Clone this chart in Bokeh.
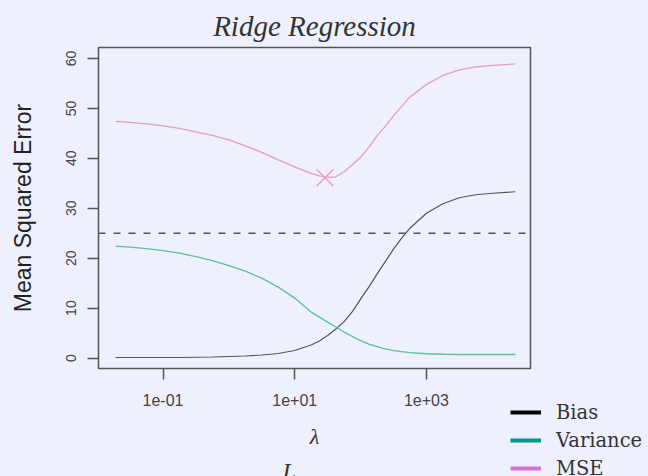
import math
from bokeh.plotting import figure
from bokeh.models import FixedTicker, Span, Legend, LegendItem, Title, Range1d
from bokeh.embed import file_html
from bokeh.resources import INLINE

# ---- data ----
lam = [0.01905, 0.03162, 0.05623, 0.1, 0.1778, 0.3162, 0.5623, 1.0, 1.778, 3.162,
       5.623, 10.0, 17.78, 23.71, 31.62, 42.17, 56.23, 74.99, 100.0, 133.4,
       177.8, 237.1, 316.2, 421.7, 562.3, 1000.0, 1778.0, 3162.0, 5623.0, 10000.0,
       22390.0]
bias = [0.1, 0.1, 0.1, 0.1, 0.1, 0.15, 0.2, 0.3, 0.4, 0.6,
        0.9, 1.5, 2.6, 3.4, 4.5, 5.8, 7.3, 9.3, 11.8, 14.2,
        16.8, 19.3, 21.8, 24.0, 26.0, 29.0, 30.9, 32.1, 32.7, 33.0,
        33.3]
variance = [22.4, 22.2, 21.9, 21.5, 21.0, 20.3, 19.5, 18.5, 17.4, 16.0,
            14.2, 12.0, 9.2, 8.2, 7.2, 6.2, 5.2, 4.3, 3.5, 2.8,
            2.3, 1.85, 1.5, 1.3, 1.1, 0.85, 0.75, 0.7, 0.7, 0.7,
            0.7]
mse = [47.4, 47.2, 46.9, 46.5, 46.0, 45.3, 44.6, 43.7, 42.5, 41.2,
       39.7, 38.3, 37.0, 36.5, 36.2, 36.3, 37.3, 38.7, 40.2, 42.2,
       44.5, 46.4, 48.5, 50.4, 52.3, 54.8, 56.6, 57.7, 58.3, 58.6,
       58.9]
irreducible = 25.0
best_lam = [28.8]
best_mse = [36.1]

xtick_values = [0.1, 10, 1000]
xtick_labels = ["1e-01", "1e+01", "1e+03"]
ytick_values = [0, 10, 20, 30, 40, 50, 60]
series_names = ["Bias", "Variance", "MSE"]
legend_colors = ["#000000", "#00968f", "#d872d8"]
line_colors = ["#555555", "#5cbf98", "#e29dbf"]

BG = "#eef1fd"

p = figure(frame_width=432, frame_height=321,
           x_axis_type="log",
           x_range=Range1d(10 ** -1.98, 10 ** 4.581),
           y_range=Range1d(-2.1, 62.2),
           min_border_left=98, min_border_right=118,
           min_border_top=47, min_border_bottom=108,
           output_backend="svg", toolbar_location=None,
           background_fill_color=BG, border_fill_color=BG)

p.title.text = "Ridge Regression"
p.title.text_font = "Liberation Serif"
p.title.text_font_style = "italic"
p.title.text_font_size = "29px"
p.title.text_color = "#333333"
p.title.align = "center"
p.title.offset = -4
p.title.standoff = 12

p.grid.visible = False
p.outline_line_color = "#555555"
p.outline_line_width = 1.5

for ax in (p.xaxis[0], p.yaxis[0]):
    ax.axis_line_color = None
    ax.major_tick_out = 11
    ax.major_tick_in = 0
    ax.major_tick_line_color = "#555555"
    ax.major_tick_line_width = 1.5
    ax.minor_tick_line_color = None
    ax.major_label_text_font = "Liberation Sans"
    ax.major_label_text_color = "#444444"

p.xaxis.ticker = FixedTicker(ticks=xtick_values)
p.xaxis.major_label_overrides = dict(zip(xtick_values, xtick_labels))
p.xaxis.major_label_text_font_size = "16px"
p.xaxis.major_label_standoff = 14
p.xaxis.axis_label = "λ"
p.xaxis.axis_label_text_font = "Liberation Serif"
p.xaxis.axis_label_text_font_style = "italic"
p.xaxis.axis_label_text_font_size = "22px"
p.xaxis.axis_label_text_color = "#333333"
p.xaxis.axis_label_standoff = 15

p.yaxis.ticker = FixedTicker(ticks=ytick_values)
p.yaxis.major_label_orientation = "vertical"
p.yaxis.major_label_text_font_size = "14px"
p.yaxis.major_label_standoff = 11
p.yaxis.axis_label = "Mean Squared Error"
p.yaxis.axis_label_text_font = "Liberation Sans"
p.yaxis.axis_label_text_font_style = "normal"
p.yaxis.axis_label_text_font_size = "23px"
p.yaxis.axis_label_text_color = "#222222"
p.yaxis.axis_label_standoff = 28

# irreducible error
p.add_layout(Span(location=irreducible, dimension="width", line_color="#555555",
                  line_width=1.5, line_dash="7 8"))

# curves
p.line(lam, bias, line_color=line_colors[0], line_width=1.2)
p.line(lam, variance, line_color=line_colors[1], line_width=1.3)
p.line(lam, mse, line_color=line_colors[2], line_width=1.3)
p.scatter(best_lam, best_mse, marker="x", size=24, line_color=line_colors[2], line_width=1.3)

# legend samples (thick lines, legend colours)
nan = float("nan")
items = []
for name, col in zip(series_names, legend_colors):
    r = p.line([nan], [nan], line_color=col, line_width=4)
    items.append(LegendItem(label=name, renderers=[r]))

legend = Legend(items=items, location=(-20, -112), orientation="vertical",
                padding=0, margin=-8, spacing=4, glyph_width=31, glyph_height=24,
                label_height=24, label_standoff=15,
                label_text_font="DejaVu Serif", label_text_font_size="19.5px",
                label_text_color="#333333",
                border_line_color=None, background_fill_alpha=0)
p.add_layout(legend, "right")

# partially visible text at the bottom edge
p.add_layout(Title(text="L", align="left", offset=184, vertical_align="top", standoff=13,
                   text_font="Liberation Serif", text_font_style="italic",
                   text_font_size="24px", text_color="#333333"), "below")

html = file_html(p, INLINE)
html = html.replace("<head>", "<head><style>html,body{background:%s;overflow:hidden;}</style>" % BG, 1)
open("out.html", "w").write(html)
